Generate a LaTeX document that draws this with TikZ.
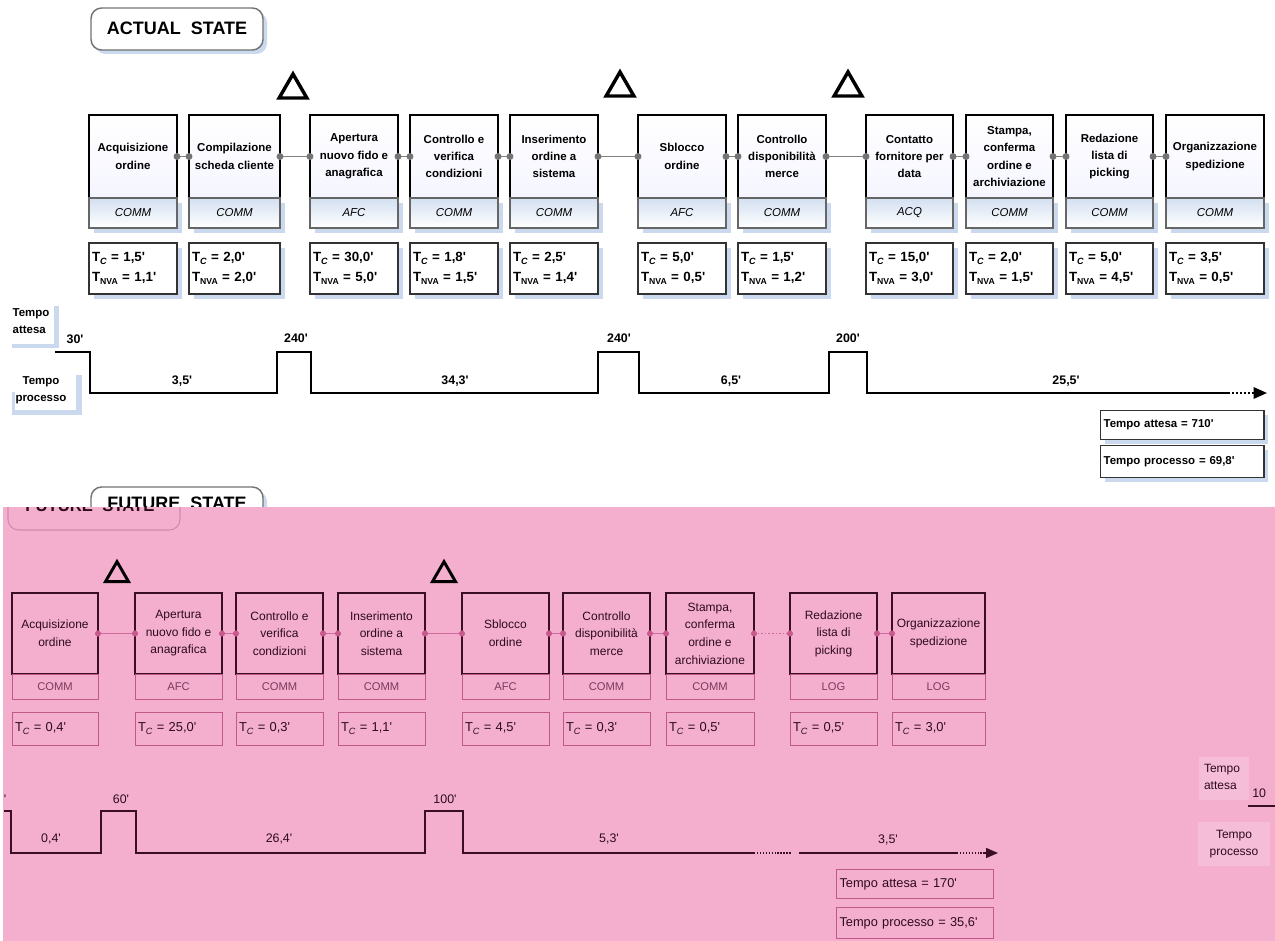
\documentclass[tikz,border=0pt]{standalone}
\usepackage{fontspec}
\setmainfont{Liberation Sans}
\usetikzlibrary{shapes.geometric,arrows.meta}
\definecolor{shblue}{HTML}{CAD9EE}
\definecolor{subtop}{HTML}{D3E0F1}
\definecolor{pinkbg}{RGB}{244,175,207}
\definecolor{pinkline}{HTML}{D06A9A}
\definecolor{pinkdot}{HTML}{C85A8E}
\definecolor{pinkbord}{HTML}{C0588A}
\definecolor{maroon}{HTML}{3A0F25}
\definecolor{pinktext}{HTML}{2E0A1C}
\definecolor{pinksub}{HTML}{7A3A5C}
\definecolor{pinklight}{HTML}{F6BDD8}
\newcommand\mn{\textquotesingle}
\newcommand\sbc{\raisebox{-0.35ex}{\fontsize{6.8}{6.8}\selectfont\itshape C}}
\newcommand\sbn{\raisebox{-0.35ex}{\fontsize{6.5}{6.5}\selectfont NVA}}
\tikzset{
 topmain/.style={draw=black, line width=1.9pt, top color=white, bottom color=blue!4, minimum height=62.25pt, inner sep=0pt, outer sep=0pt, align=center, font=\fontsize{8.6}{13}\selectfont\bfseries},
 topsub/.style={draw=black!60, line width=0.8pt, top color=subtop, bottom color=white, minimum height=22.5pt, inner sep=0pt, outer sep=0pt, font=\fontsize{8.6}{10}\selectfont\itshape},
 topdata/.style={draw=black!80, line width=1pt, fill=white, minimum height=38.25pt, inner ysep=0pt, inner xsep=2.25pt, outer sep=0pt, align=left, font=\fontsize{10}{15}\selectfont\bfseries},
 botmain/.style={draw=maroon, line width=1.8pt, minimum height=60.75pt, inner sep=0pt, outer sep=0pt, align=center, text=pinktext, font=\fontsize{9}{13.2}\selectfont},
 botsub/.style={draw=pinkbord, line width=0.75pt, minimum height=18.75pt, inner sep=0pt, outer sep=0pt, text=pinksub, font=\fontsize{8.4}{9}\selectfont},
 botdata/.style={draw=pinkbord, line width=0.75pt, minimum height=24.75pt, inner ysep=0pt, inner xsep=2.25pt, outer sep=0pt, align=left, text=pinktext, font=\fontsize{9.7}{11}\selectfont},
 tri/.style={regular polygon, regular polygon sides=3, draw=black, line width=2.6pt, fill=white, minimum size=24pt, inner sep=0pt},
 btri/.style={regular polygon, regular polygon sides=3, draw=black, line width=2.2pt, minimum size=20pt, inner sep=0pt},
 tconn/.style={draw=black!50, line width=1.2pt},
 tdot/.style={fill=black!55},
 bconn/.style={draw=pinkline, line width=1pt},
 bdot/.style={fill=pinkdot},
 tline/.style={draw=black, line width=1.5pt},
 bline/.style={draw=maroon, line width=1.1pt},
 tlab/.style={inner sep=0pt, font=\fontsize{9.3}{11}\selectfont\bfseries},
 blab/.style={inner sep=0pt, text=pinktext, font=\fontsize{9.3}{11}\selectfont},
 tsum/.style={draw=black!80, line width=1pt, fill=white, anchor=north west, inner xsep=2.25pt, inner ysep=0pt, align=left, font=\fontsize{8.6}{10}\selectfont\bfseries},
 bsum/.style={draw=pinkbord, line width=0.75pt, anchor=north west, inner xsep=2.25pt, inner ysep=0pt, align=left, text=pinktext, font=\fontsize{9.6}{11}\selectfont},
}
\newcommand\tproc[6]{%
 \fill[shblue] (#2+5,203) rectangle (#3+5,233);
 \fill[shblue] (#2+5,248) rectangle (#3+5,299);
 \node[topmain, minimum width={(#3-#2)*0.75pt}, anchor=north west] (#1) at (#2,115) {#4};
 \node[topsub, minimum width={(#3-#2)*0.75pt}, anchor=north west] (#1s) at (#2,198) {#5};
 \node[topdata, minimum width={(#3-#2)*0.75pt}, text width={(#3-#2-6)*0.75pt}, anchor=north west] (#1d) at (#2,243) {#6};
}
\newcommand\bproc[6]{%
 \node[botmain, minimum width={(#3-#2)*0.75pt}, anchor=north west] (#1) at (#2,593) {#4};
 \node[botsub, minimum width={(#3-#2)*0.75pt}, anchor=north west] (#1s) at (#2,674) {#5};
 \node[botdata, minimum width={(#3-#2)*0.75pt}, text width={(#3-#2-6)*0.75pt}, anchor=north west] (#1d) at (#2,712) {#6};
}
\begin{document}
\begin{tikzpicture}[x=0.75pt,y=-0.75pt]
\useasboundingbox (0,0) rectangle (1275,941);
\clip (0,0) rectangle (1275,941);
\fill[white] (0,0) rectangle (1275,941);

% ---------- ACTUAL STATE ----------
\fill[shblue, rounded corners=8pt] (95,12) rectangle (267,54);
\draw[black!55, line width=1.1pt, fill=white, rounded corners=8pt] (91,8) rectangle (263,50);
\node[inner sep=0pt, font=\fontsize{13.5}{15}\selectfont\bfseries] (titleA) at (177,28) {ACTUAL\ \ STATE};

\node[tri] (ta1) at (293,90) {};
\node[tri] (ta2) at (620,88) {};
\node[tri] (ta3) at (848,88) {};

\tproc{p1}{89}{177}{Acquisizione\\ordine}{COMM}{T\sbc{} = 1,5\mn\\T\sbn{} = 1,1\mn}
\tproc{p2}{189}{280}{Compilazione\\scheda cliente}{COMM}{T\sbc{} = 2,0\mn\\T\sbn{} = 2,0\mn}
\tproc{p3}{310}{398}{Apertura\\nuovo fido e\\anagrafica}{AFC}{T\sbc{} = 30,0\mn\\T\sbn{} = 5,0\mn}
\tproc{p4}{410}{498}{Controllo e\\verifica\\condizioni}{COMM}{T\sbc{} = 1,8\mn\\T\sbn{} = 1,5\mn}
\tproc{p5}{510}{598}{Inserimento\\ordine a\\sistema}{COMM}{T\sbc{} = 2,5\mn\\T\sbn{} = 1,4\mn}
\tproc{p6}{638}{726}{Sblocco\\ordine}{AFC}{T\sbc{} = 5,0\mn\\T\sbn{} = 0,5\mn}
\tproc{p7}{738}{826}{Controllo\\disponibilità\\merce}{COMM}{T\sbc{} = 1,5\mn\\T\sbn{} = 1,2\mn}
\tproc{p8}{866}{953}{Contatto\\fornitore per\\data}{ACQ}{T\sbc{} = 15,0\mn\\T\sbn{} = 3,0\mn}
\tproc{p9}{966}{1053}{Stampa,\\conferma\\ordine e\\archiviazione}{COMM}{T\sbc{} = 2,0\mn\\T\sbn{} = 1,5\mn}
\tproc{p10}{1066}{1153}{Redazione\\lista di\\picking}{COMM}{T\sbc{} = 5,0\mn\\T\sbn{} = 4,5\mn}
\tproc{p11}{1166}{1264}{Organizzazione\\spedizione}{COMM}{T\sbc{} = 3,5\mn\\T\sbn{} = 0,5\mn}

\foreach \a/\b in {p1/p2,p2/p3,p3/p4,p4/p5,p5/p6,p6/p7,p7/p8,p8/p9,p9/p10,p10/p11}{
 \draw[tconn] (\a.east) -- (\b.west);
 \fill[tdot] (\a.east) circle (2.6pt);
 \fill[tdot] (\b.west) circle (2.6pt);
}

% top timeline labels
\fill[shblue] (54,306) rectangle (59,348);
\fill[shblue] (12,344) rectangle (59,348);
\node[inner sep=0pt, align=left, font=\fontsize{8.6}{12.5}\selectfont\bfseries] (lwa) at (31,321) {Tempo\\attesa};
\fill[shblue] (76,375) rectangle (82,415);
\fill[shblue] (12,410) rectangle (82,415);
\fill[shblue] (12,392) rectangle (15,415);
\node[inner sep=0pt, align=center, font=\fontsize{8.6}{12.5}\selectfont\bfseries] (lpa) at (41,390) {Tempo\\processo};

\draw[tline] (55,352) -- (90,352) -- (90,393) -- (277,393) -- (277,352) -- (311,352) -- (311,393) -- (598,393) -- (598,352) -- (639,352) -- (639,393) -- (829,393) -- (829,352) -- (867,352) -- (867,393) -- (1228,393);
\draw[tline, dash pattern=on 1.5pt off 1.5pt] (1228,393) -- (1254,393);
\draw[tline, -{Triangle[length=10pt,width=8.5pt]}] (1252,393) -- (1267,393);

\node[tlab] (w1) at (75,339) {30\mn};
\node[tlab] (w2) at (296,338) {240\mn};
\node[tlab] (w3) at (619,338) {240\mn};
\node[tlab] (w4) at (848,338) {200\mn};
\node[tlab] (c1) at (182,381) {3,5\mn};
\node[tlab] (c2) at (455,381) {34,3\mn};
\node[tlab] (c3) at (731,381) {6,5\mn};
\node[tlab] (c4) at (1066,381) {25,5\mn};

\fill[shblue] (1105,415) rectangle (1268,444);
\fill[shblue] (1105,450) rectangle (1268,482);
\node[tsum, minimum width=122.25pt, text width=118pt, minimum height=21.75pt] (sa) at (1100,410) {Tempo attesa = 710\mn};
\node[tsum, minimum width=122.25pt, text width=118pt, minimum height=24pt] (sp) at (1100,445) {Tempo processo = 69,8\mn};

% ---------- FUTURE STATE title (cut) ----------
\fill[shblue, rounded corners=8pt] (95,491) rectangle (267,533);
\draw[black!55, line width=1.1pt, fill=white, rounded corners=8pt] (91,487) rectangle (263,529);
\node[inner sep=0pt, font=\fontsize{13.5}{15}\selectfont\bfseries] (titleF) at (177,503) {FUTURE\ \ STATE};

% ---------- pink future state ----------
\fill[pinkbg] (3,507) rectangle (1275,941);
\begin{scope}
 \clip (3,507) rectangle (300,545);
 \draw[pinkbord!70, line width=0.8pt, rounded corners=8pt] (8,470) rectangle (180,530);
 \node[inner sep=0pt, text=pinktext, font=\fontsize{12.5}{14}\selectfont\bfseries] (titleR) at (90,506) {FUTURE\ \ STATE};
\end{scope}

\node[btri] (tb1) at (117,575) {};
\node[btri] (tb2) at (444,575) {};

\bproc{q1}{12}{98}{Acquisizione\\ordine}{COMM}{T\sbc{} = 0,4\mn}
\bproc{q2}{135}{222}{Apertura\\nuovo fido e\\anagrafica}{AFC}{T\sbc{} = 25,0\mn}
\bproc{q3}{236}{323}{Controllo e\\verifica\\condizioni}{COMM}{T\sbc{} = 0,3\mn}
\bproc{q4}{338}{425}{Inserimento\\ordine a\\sistema}{COMM}{T\sbc{} = 1,1\mn}
\bproc{q5}{462}{549}{Sblocco\\ordine}{AFC}{T\sbc{} = 4,5\mn}
\bproc{q6}{563}{650}{Controllo\\disponibilità\\merce}{COMM}{T\sbc{} = 0,3\mn}
\bproc{q7}{666}{754}{Stampa,\\conferma\\ordine e\\archiviazione}{COMM}{T\sbc{} = 0,5\mn}
\bproc{q8}{790}{877}{Redazione\\lista di\\picking}{LOG}{T\sbc{} = 0,5\mn}
\bproc{q9}{892}{985}{Organizzazione\\spedizione}{LOG}{T\sbc{} = 3,0\mn}

\foreach \a/\b in {q1/q2,q2/q3,q3/q4,q4/q5,q5/q6,q6/q7,q8/q9}{
 \draw[bconn] (\a.east) -- (\b.west);
 \fill[bdot] (\a.east) circle (2.3pt);
 \fill[bdot] (\b.west) circle (2.3pt);
}
\draw[bconn, dash pattern=on 1.2pt off 1.5pt] (q7.east) -- (q8.west);
\fill[bdot] (q7.east) circle (2.3pt);
\fill[bdot] (q8.west) circle (2.3pt);

% bottom timeline
\draw[bline] (4,811) -- (11,811) -- (11,853) -- (101,853) -- (101,811) -- (136,811) -- (136,853) -- (425,853) -- (425,811) -- (463,811) -- (463,853) -- (754,853);
\draw[bline, dash pattern=on 1.1pt off 1.1pt] (754,853) -- (791,853);
\draw[bline] (799,853) -- (957,853);
\draw[bline, dash pattern=on 1.1pt off 1.1pt] (957,853) -- (986,853);
\draw[bline, -{Triangle[length=9pt,width=7.5pt]}] (984,853) -- (998,853);

\node[blab] (bq0) at (5,799) {\mn};
\node[blab] (bw1) at (121,799) {60\mn};
\node[blab] (bw2) at (445,799) {100\mn};
\node[blab] (bc1) at (51,839) {0,4\mn};
\node[blab] (bc2) at (279,839) {26,4\mn};
\node[blab] (bc3) at (609,839) {5,3\mn};
\node[blab] (bc4) at (888,840) {3,5\mn};

\node[bsum, minimum width=117pt, text width=113pt, minimum height=21.75pt] (bsa) at (836,869) {Tempo attesa = 170\mn};
\node[bsum, minimum width=117pt, text width=113pt, minimum height=23.25pt] (bsp) at (836,907) {Tempo processo = 35,6\mn};

% right remnants
\fill[pinklight] (1199,757) rectangle (1249,800);
\node[blab, align=left, font=\fontsize{9}{13}\selectfont] (rwa) at (1222,777) {Tempo\\attesa};
\node[blab, anchor=west] (r10) at (1252,793) {10};
\draw[bline] (1248,806) -- (1275,806);
\fill[pinklight] (1198,822) rectangle (1270,866);
\node[blab, align=center, font=\fontsize{9}{13}\selectfont] (rpa) at (1234,844) {Tempo\\processo};
\end{tikzpicture}
\end{document}
